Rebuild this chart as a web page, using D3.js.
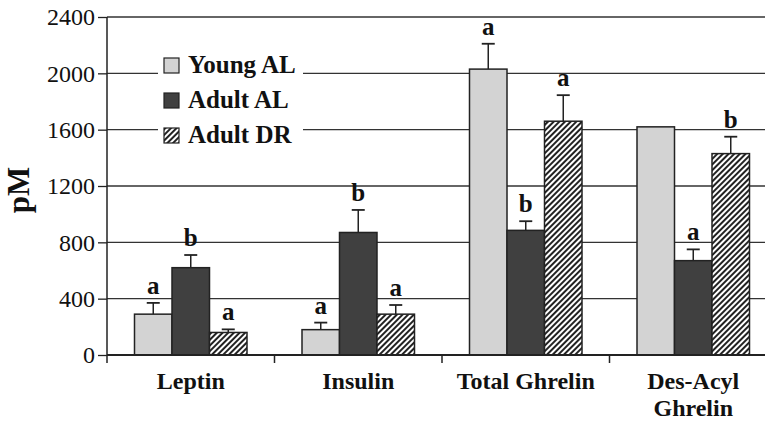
<!DOCTYPE html>
<html>
<head>
<meta charset="utf-8">
<script src="https://cdn.jsdelivr.net/npm/d3@7"></script>
<style>
	body { margin: 0; background: #fff; }
	svg { display: block; }
	text { font-family: "Liberation Serif", "Times New Roman", serif; fill: #111; }
</style>
</head>
<body>
<script>
	// values (pM)
	var categories = ['Leptin', 'Insulin', 'Total Ghrelin', 'Des-Acyl Ghrelin'],
		groups = ['Young AL', 'Adult AL', 'Adult DR'],
		youngAL = [290, 180, 2030, 1620],
		adultAL = [620, 870, 885, 670],
		adultDR = [160, 290, 1660, 1430],
		youngErr = [80, 50, 180, 0],
		adultErr = [90, 160, 65, 80],
		drErr = [22, 65, 185, 120],
		youngSig = ['a', 'a', 'a', ''],
		adultSig = ['b', 'b', 'b', 'a'],
		drSig = ['a', 'a', 'a', 'b'],
		yTicks = [0, 400, 800, 1200, 1600, 2000, 2400];

	var width = 765,
		height = 424,
		plotLeft = 107,
		plotRight = 777,
		plotTop = 17,
		plotBottom = 355;

	var series = [
		{name: groups[0], values: youngAL, err: youngErr, sig: youngSig, fill: '#d3d3d3'},
		{name: groups[1], values: adultAL, err: adultErr, sig: adultSig, fill: '#404040'},
		{name: groups[2], values: adultDR, err: drErr, sig: drSig, fill: 'url(#hatch)'}
	];

	var svg = d3.select('body').append('svg')
		.attr('width', width)
		.attr('height', height);

	var pattern = svg.append('defs').append('pattern')
		.attr('id', 'hatch')
		.attr('patternUnits', 'userSpaceOnUse')
		.attr('width', 4)
		.attr('height', 4)
		.attr('patternTransform', 'rotate(45)');
	pattern.append('rect').attr('width', 4).attr('height', 4).attr('fill', '#fff');
	pattern.append('line')
		.attr('x1', 1).attr('y1', 0).attr('x2', 1).attr('y2', 4)
		.attr('stroke', '#222').attr('stroke-width', 2);

	var x = d3.scaleBand().domain(categories).range([plotLeft, plotRight]).paddingInner(0).paddingOuter(0);
	var inner = d3.scaleBand().domain(groups).range([27.5, x.bandwidth() - 27.5]);
	var y = d3.scaleLinear().domain([0, 2400]).range([plotBottom, plotTop]);

	// gridlines
	svg.append('g').selectAll('line')
		.data(yTicks.slice(1))
		.enter().append('line')
		.attr('x1', plotLeft).attr('x2', width)
		.attr('y1', function(d) { return y(d); })
		.attr('y2', function(d) { return y(d); })
		.attr('stroke', '#333').attr('stroke-width', 1.3);

	// legend (white box hides the gridlines)
	var legend = svg.append('g');
	legend.append('rect')
		.attr('x', 158).attr('y', 45).attr('width', 145).attr('height', 105)
		.attr('fill', '#fff');
	var item = legend.selectAll('g.item')
		.data(series)
		.enter().append('g')
		.attr('class', 'item')
		.attr('transform', function(d, i) { return 'translate(164,' + (58 + i * 35) + ')'; });
	item.append('rect')
		.attr('width', 15).attr('height', 15)
		.attr('fill', function(d) { return d.fill; })
		.attr('stroke', '#222').attr('stroke-width', 1.2);
	item.append('text')
		.attr('x', 24).attr('y', 15)
		.attr('font-size', 25).attr('font-weight', 'bold')
		.text(function(d) { return d.name; });

	// bars
	var groupG = svg.append('g').selectAll('g')
		.data(categories)
		.enter().append('g')
		.attr('transform', function(d) { return 'translate(' + x(d) + ',0)'; });

	var cell = groupG.selectAll('g')
		.data(function(c, ci) {
			return series.map(function(s) {
				return {group: s.name, value: s.values[ci], err: s.err[ci], sig: s.sig[ci], fill: s.fill};
			});
		})
		.enter().append('g');

	cell.filter(function(d) { return d.err > 0; }).each(function(d) {
		var g = d3.select(this),
			cx = inner(d.group) + inner.bandwidth() / 2;
		g.append('line')
			.attr('x1', cx).attr('x2', cx)
			.attr('y1', y(d.value)).attr('y2', y(d.value + d.err))
			.attr('stroke', '#222').attr('stroke-width', 1.5);
		g.append('line')
			.attr('x1', cx - 6.5).attr('x2', cx + 6.5)
			.attr('y1', y(d.value + d.err)).attr('y2', y(d.value + d.err))
			.attr('stroke', '#222').attr('stroke-width', 1.8);
	});

	cell.append('rect')
		.attr('x', function(d) { return inner(d.group); })
		.attr('width', inner.bandwidth())
		.attr('y', function(d) { return y(d.value); })
		.attr('height', function(d) { return plotBottom - y(d.value); })
		.attr('fill', function(d) { return d.fill; })
		.attr('stroke', '#222').attr('stroke-width', 1.5);

	cell.append('text')
		.attr('x', function(d) { return inner(d.group) + inner.bandwidth() / 2; })
		.attr('y', function(d) { return y(d.value + d.err) - 9; })
		.attr('text-anchor', 'middle')
		.attr('font-size', 25).attr('font-weight', 'bold')
		.text(function(d) { return d.sig; });

	// y axis
	var yAxis = svg.append('g')
		.attr('transform', 'translate(' + plotLeft + ',0)')
		.call(d3.axisLeft(y).tickValues(yTicks).tickSize(9).tickPadding(3).tickFormat(d3.format('d')));
	yAxis.select('.domain').attr('stroke', '#222').attr('stroke-width', 1.5)
		.attr('d', 'M0,' + plotTop + 'V' + (plotBottom + 8));
	yAxis.selectAll('.tick line').attr('stroke', '#222').attr('stroke-width', 1.3);
	yAxis.selectAll('.tick text')
		.attr('font-family', '"Liberation Serif", serif')
		.attr('font-size', 24).attr('fill', '#222');

	// x axis with ticks at category boundaries
	svg.append('line')
		.attr('x1', plotLeft).attr('x2', width)
		.attr('y1', plotBottom).attr('y2', plotBottom)
		.attr('stroke', '#222').attr('stroke-width', 1.8);
	svg.append('g').selectAll('line')
		.data(categories.slice(1))
		.enter().append('line')
		.attr('x1', function(d) { return x(d); })
		.attr('x2', function(d) { return x(d); })
		.attr('y1', plotBottom).attr('y2', plotBottom + 8)
		.attr('stroke', '#222').attr('stroke-width', 1.5);

	var catLabels = {'Des-Acyl Ghrelin': ['Des-Acyl', 'Ghrelin']};
	svg.append('g').selectAll('text')
		.data(categories)
		.enter().append('text')
		.attr('text-anchor', 'middle')
		.attr('font-size', 24).attr('font-weight', 'bold')
		.attr('transform', function(d) { return 'translate(' + (x(d) + x.bandwidth() / 2) + ',389)'; })
		.each(function(d) {
			var lines = catLabels[d] || [d];
			d3.select(this).selectAll('tspan')
				.data(lines)
				.enter().append('tspan')
				.attr('x', 0)
				.attr('dy', function(l, i) { return i ? 27 : 0; })
				.text(function(l) { return l; });
		});

	svg.append('text')
		.attr('transform', 'translate(29,190) rotate(-90)')
		.attr('text-anchor', 'middle')
		.attr('font-size', 31).attr('font-weight', 'bold')
		.text('pM');
</script>
</body>
</html>
